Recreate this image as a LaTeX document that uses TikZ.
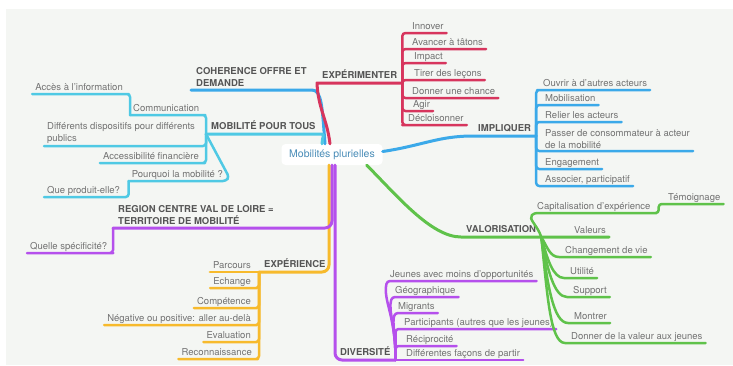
\documentclass[tikz,border=0pt]{standalone}
\usepackage{fontspec}
\setmainfont{TeX Gyre Heros}
\definecolor{bg}{HTML}{F4F6F3}
\definecolor{txt}{HTML}{727272}
\definecolor{lbl}{HTML}{555555}
\definecolor{ctrtxt}{HTML}{4A8DB8}
\definecolor{cred}{HTML}{D7355D}
\definecolor{cblue}{HTML}{3BA9E9}
\definecolor{ccyan}{HTML}{4FC9E4}
\definecolor{cpurple}{HTML}{B550EC}
\definecolor{corange}{HTML}{F7BA2C}
\definecolor{cgreen}{HTML}{5FC24A}
\begin{document}
\begin{tikzpicture}[x=1pt,y=-1pt,
  leaf/.style={font=\fontsize{9.5}{12}\selectfont, text=txt, inner xsep=3pt, inner ysep=1.5pt, text height=7pt, text depth=2pt},
  leafml/.style={font=\fontsize{9.5}{12}\selectfont, text=txt, inner xsep=3pt, inner ysep=2.5pt, align=left},
  topic/.style={font=\fontsize{9.5}{12}\selectfont\bfseries, text=lbl, inner xsep=5pt, inner ysep=2.5pt, text height=7pt, text depth=2pt},
  topicml/.style={font=\fontsize{9.5}{12}\selectfont\bfseries, text=lbl, inner xsep=5pt, inner ysep=3pt, align=left},
  main/.style={line width=3pt, line cap=round, line join=round},
  sub/.style={line width=2.5pt, line cap=round, line join=round, rounded corners=3pt}]
\useasboundingbox (0,0) rectangle (733,365);
\fill[bg] (6,9) rectangle (733,365);
\node[fill=white, rounded corners=4pt, text=ctrtxt, font=\fontsize{10.5}{12}\selectfont, minimum width=101pt, minimum height=21pt, inner sep=0pt] (ctr) at (332,154.5) {Mobilités plurielles};

\node[topicml, anchor=south west] (coh) at (191,90) {COHERENCE OFFRE ET\\DEMANDE};
\node[topic, anchor=south west] (expm) at (317,83) {EXPÉRIMENTER};
\node[topic, anchor=south west] (mob) at (206,134) {MOBILITÉ POUR TOUS};
\node[topic, anchor=south west] (impl) at (473,136) {IMPLIQUER};
\node[topicml, anchor=south west] (reg) at (113,228) {REGION CENTRE VAL DE LOIRE =\\TERRITOIRE DE MOBILITÉ};
\node[topic, anchor=south west] (val) at (461,237) {VALORISATION};
\node[topic, anchor=south west] (expc) at (259,272) {EXPÉRIENCE};
\node[topic, anchor=south west] (div) at (335,360) {DIVERSITÉ};

\node[leaf, anchor=south west] (inn) at (409,33) {Innover};
\node[leaf, anchor=south west] (ava) at (409,49) {Avancer à tâtons};
\node[leaf, anchor=south west] (imc) at (411,63) {Impact};
\node[leaf, anchor=south west] (tir) at (411,80) {Tirer des leçons};
\node[leaf, anchor=south west] (don) at (409,98) {Donner une chance};
\node[leaf, anchor=south west] (agi) at (410,111) {Agir};
\node[leaf, anchor=south west] (dec) at (405,125) {Décloisonner};

\node[leaf, anchor=south west] (ouv) at (540,90) {Ouvrir à d’autres acteurs};
\node[leaf, anchor=south west] (mobi) at (542,105) {Mobilisation};
\node[leaf, anchor=south west] (rel) at (542,122) {Relier les acteurs};
\node[leafml, anchor=south west] (pas) at (542,151) {Passer de consommateur à acteur\\de la mobilité};
\node[leaf, anchor=south west] (eng) at (542,169) {Engagement};
\node[leaf, anchor=south west] (ass) at (542,186) {Associer, participatif};

\node[leaf, anchor=south west] (com) at (130,115) {Communication};
\node[leaf, anchor=south east] (acs) at (126,94) {Accès à l’information};
\node[leafml, anchor=south west] (dsp) at (44,146) {Différents dispositifs pour différents\\publics};
\node[leaf, anchor=south east] (accf) at (202,163) {Accessibilité financière};
\node[leaf, anchor=south east] (pq) at (226,181) {Pourquoi la mobilité ?};
\node[leaf, anchor=south west] (qp) at (44,197) {Que produit-elle?};

\node[leaf, anchor=south west] (qsp) at (27,253) {Quelle spécificité?};

\node[leaf, anchor=south east] (parc) at (254,272) {Parcours};
\node[leaf, anchor=south east] (ech) at (254,288) {Echange};
\node[leaf, anchor=south east] (comp) at (254,308) {Compétence};
\node[leaf, anchor=south east] (neg) at (254,325) {Négative ou positive: aller au-delà};
\node[leaf, anchor=south east] (eva) at (254,342) {Evaluation};
\node[leaf, anchor=south east] (rec) at (255,359) {Reconnaissance};

\node[leaf, anchor=south west] (jeu) at (387,281) {Jeunes avec moins d’opportunités};
\node[leaf, anchor=south west] (geo) at (392,297) {Géographique};
\node[leaf, anchor=south west] (mig) at (395,313) {Migrants};
\node[leaf, anchor=south west] (part) at (401,329) {Participants (autres que les jeunes)};
\node[leaf, anchor=south west] (reci) at (403,346) {Réciprocité};
\node[leaf, anchor=south west] (dfp) at (403,360) {Différentes façons de partir};

\node[leaf, anchor=south west] (cap) at (534,213) {Capitalisation d’expérience};
\node[leaf, anchor=south west] (tem) at (665,204) {Témoignage};
\node[leaf, anchor=south west] (vals) at (571,237) {Valeurs};
\node[leaf, anchor=south west] (chg) at (562,257) {Changement de vie};
\node[leaf, anchor=south west] (uti) at (567,278) {Utilité};
\node[leaf, anchor=south west] (sup) at (570,297) {Support};
\node[leaf, anchor=south west] (mon) at (571,323) {Montrer};
\node[leaf, anchor=south west] (dvj) at (568,343) {Donner de la valeur aux jeunes};

\draw[main,cblue] ([xshift=-7pt]ctr.north) .. controls +(-3,-38) and +(10,0) .. (coh.south east) -- (coh.south west);
\draw[main,cred] ([xshift=-2pt]ctr.north) .. controls +(-3,-25) and +(1,25) .. (expm.south west) -- (expm.south east);
\draw[main,ccyan] ([xshift=-10pt]ctr.north) .. controls +(0,-7) and +(5,0) .. (mob.south east) -- (mob.south west);
\draw[main,cblue] ([yshift=3pt]ctr.east) .. controls +(40,-6) and +(-35,0) .. (impl.south west) -- (impl.south east);
\draw[main,cgreen] ([xshift=-16pt]ctr.south east) .. controls +(30,30) and +(-30,0) .. (val.south west) -- (val.south east) -- (vals.south west) -- (vals.south east);
\draw[main,corange,rounded corners=7pt] ([xshift=-3pt]ctr.south) |- (expc.south west);
\draw[main,cpurple,rounded corners=7pt] (ctr.south) |- (reg.south west);
\draw[main,cpurple,rounded corners=7pt] ([xshift=3pt]ctr.south) |- (div.south east);

\foreach \n in {inn,ava,imc,tir,don,agi,dec}
  \draw[sub,cred] (expm.south east) |- (\n.south west) -- (\n.south east);
\foreach \n in {ouv,mobi,rel,pas,eng,ass}
  \draw[sub,cblue] (impl.south east) |- (\n.south west) -- (\n.south east);
\foreach \n in {com,dsp,accf}
  \draw[sub,ccyan] (mob.south west) |- (\n.south east) -- (\n.south west);
\draw[sub,ccyan] (com.south west) |- (acs.south east) -- (acs.south west);
\draw[sub,ccyan] (pq.south west) -- (pq.south east) -- ++(3,-4) -- (mob.south west);
\draw[sub,ccyan] (pq.south west) |- (qp.south east) -- (qp.south west);
\draw[sub,cpurple] (reg.south west) |- (qsp.south east) -- (qsp.south west);
\draw[sub,corange] (expc.south west) -- (parc.south east) -- (parc.south west);
\foreach \n in {ech,comp,neg,eva,rec}
  \draw[sub,corange] (expc.south west) |- (\n.south east) -- (\n.south west);
\draw[sub,cpurple] (div.south east) .. controls +(0,-45) and +(-4,20) .. (jeu.south west) -- (jeu.south east);
\draw[sub,cpurple] (div.south east) .. controls +(0,-35) and +(-4,14) .. (geo.south west) -- (geo.south east);
\draw[sub,cpurple] (div.south east) .. controls +(0,-25) and +(-3,10) .. (mig.south west) -- (mig.south east);
\foreach \n in {part,reci}
  \draw[sub,cpurple] (div.south east) |- (\n.south west) -- (\n.south east);
\draw[sub,cpurple] (div.south east) -- (dfp.south west) -- (dfp.south east);
\draw[sub,cgreen] (val.south east) .. controls +(-4,-12) and +(-6,6) .. (cap.south west) -- (cap.south east) -- ++(5,0) |- (tem.south west) -- (tem.south east);
\draw[sub,cgreen] (val.south east) .. controls +(6,10) and +(-12,0) .. (chg.south west) -- (chg.south east);
\draw[sub,cgreen] (val.south east) .. controls +(6,22) and +(-14,0) .. (uti.south west) -- (uti.south east);
\draw[sub,cgreen] (val.south east) .. controls +(6,32) and +(-16,0) .. (sup.south west) -- (sup.south east);
\draw[sub,cgreen] (val.south east) .. controls +(6,46) and +(-18,0) .. (mon.south west) -- (mon.south east);
\draw[sub,cgreen] (val.south east) .. controls +(6,56) and +(-18,0) .. (dvj.south west) -- (dvj.south east);
\end{tikzpicture}
\end{document}
